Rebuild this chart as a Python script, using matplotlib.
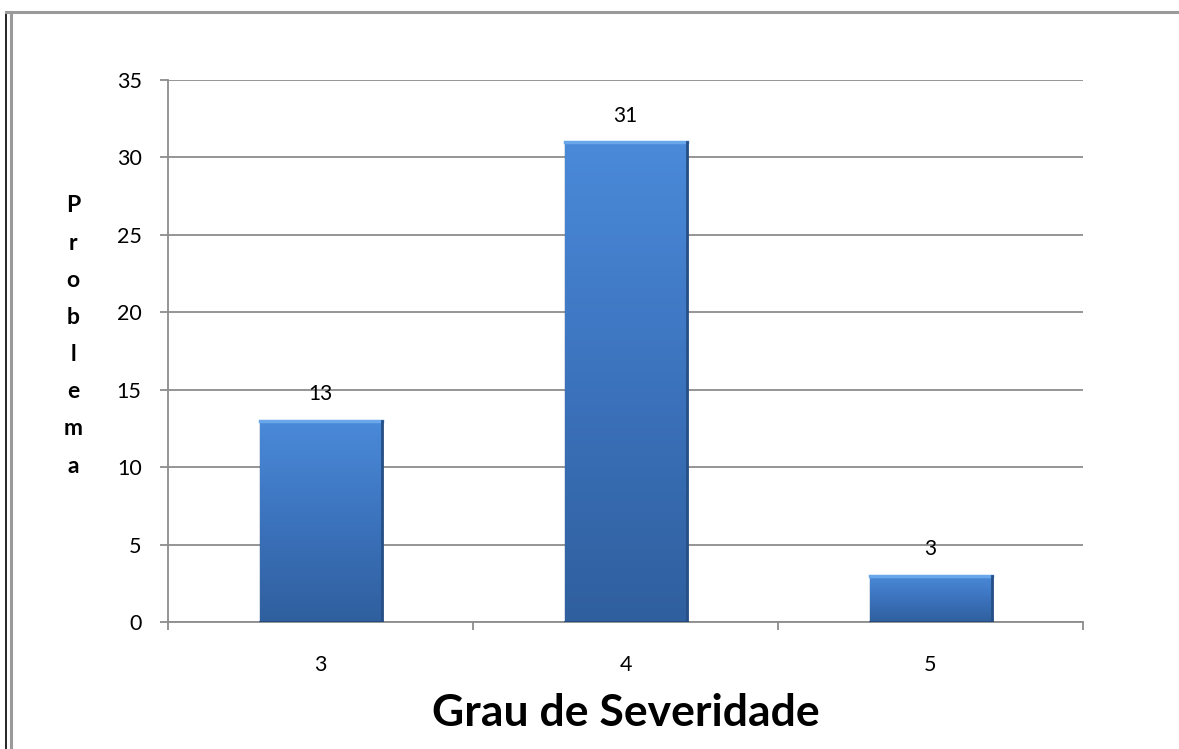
import numpy as np
import matplotlib
matplotlib.use("Agg")
import matplotlib.pyplot as plt
from matplotlib.lines import Line2D
from matplotlib.colors import LinearSegmentedColormap

# ------------------------------------------------------------------ #
#  Data                                                               #
# ------------------------------------------------------------------ #
categories = ["3", "4", "5"]
counts = [13, 31, 3]
y_ticks = [0, 5, 10, 15, 20, 25, 30, 35]

x_label = "Grau de Severidade"
y_label = "Problema"

plt.rcParams["font.family"] = ["Lato", "DejaVu Sans"]

GRID = "#8c8c8c"
fig = plt.figure(figsize=(11.79, 7.49), dpi=100)
ax = fig.add_axes([0.1425, 0.1696, 0.7761, 0.7236])

x = np.arange(len(categories))
bars = ax.bar(x, counts, width=0.4, color="#3b74c0", edgecolor="#2a5590",
              linewidth=1.0, zorder=3)

# vertical gradient inside each bar (light top -> darker bottom)
cmap = LinearSegmentedColormap.from_list("bar", ["#4a8ad9", "#3c73bd", "#2f5f9e"])
grad = np.linspace(0, 1, 256).reshape(-1, 1)
for b in bars:
    x0, y0 = b.get_x(), b.get_y()
    w, h = b.get_width(), b.get_height()
    im = ax.imshow(grad, cmap=cmap, aspect="auto", zorder=3.5,
                   extent=[x0, x0 + w, y0, y0 + h], origin="upper")
    im.set_clip_path(b)
    # bevel highlights
    ax.plot([x0, x0 + w], [y0 + h, y0 + h], color="#6aa6ea", lw=2.5, zorder=4)
    ax.plot([x0 + w, x0 + w], [y0, y0 + h], color="#264f85", lw=2.0, zorder=4)
    ax.plot([x0, x0 + w], [y0, y0], color="#24497a", lw=2.0, zorder=4)

for xi, v in zip(x, counts):
    ax.annotate(str(v), (xi, v), xytext=(0, 19), textcoords="offset points",
                ha="center", va="center", fontsize=15, color="black")

ax.set_xlim(-0.5, len(categories) - 0.5)
ax.set_ylim(0, 35)
ax.set_yticks(y_ticks)
ax.set_yticklabels([str(t) for t in y_ticks], fontsize=15.5)
ax.yaxis.grid(True, color=GRID, linewidth=1.3, zorder=0)
ax.set_axisbelow(True)

ax.set_xticks(x)
ax.set_xticklabels(categories, fontsize=15.5)
ax.tick_params(axis="x", length=0, pad=24)
ax.tick_params(axis="y", length=6, width=1.3, color=GRID, pad=13)
# category boundary ticks on x axis
ax.set_xticks(np.arange(len(categories) + 1) - 0.5, minor=True)
ax.tick_params(axis="x", which="minor", length=6, width=1.3, color=GRID)

for side in ["top", "right"]:
    ax.spines[side].set_visible(False)
for side in ["left", "bottom"]:
    ax.spines[side].set_color(GRID)
    ax.spines[side].set_linewidth(1.3)

ax.set_xlabel(x_label, fontsize=32, fontweight="bold", labelpad=13)

fig.text(73 / 1179, 1 - 336 / 749, "\n".join(y_label), ha="center", va="center",
         fontsize=16.5, fontweight="bold", linespacing=1.95)

# outer frame lines
W, H = 1179, 749
fig.add_artist(Line2D([6 / W, 6 / W], [1 - 12 / H, 0], color="black", lw=1.2,
                      transform=fig.transFigure))
fig.add_artist(Line2D([11 / W, 11 / W], [1 - 12 / H, 0], color="#9a9a9a", lw=2.2,
                      transform=fig.transFigure))
fig.add_artist(Line2D([6 / W, 1], [1 - 12 / H, 1 - 12 / H], color="#9a9a9a", lw=2.2,
                      transform=fig.transFigure))

fig.savefig("out.png", dpi=100, facecolor="white")
